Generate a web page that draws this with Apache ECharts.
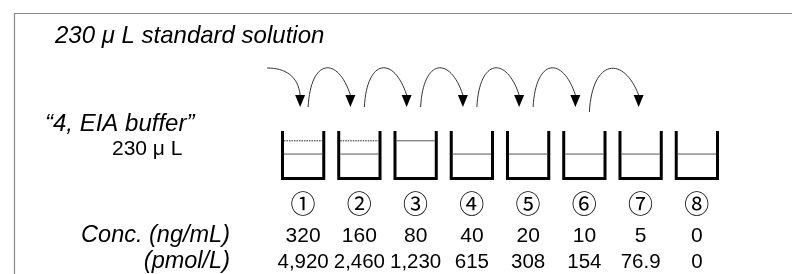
<!DOCTYPE html>
<html>
<head>
<meta charset="utf-8">
<script src="https://cdn.jsdelivr.net/npm/echarts@6/dist/echarts.min.js"></script>
<style>
    html, body { margin: 0; padding: 0; background: #fff; }
    #dom { width: 792px; height: 274px; }
</style>
</head>
<body>
<div id="dom"></div>
<script>
// tube numbers
const tubes = ['①', '②', '③', '④', '⑤', '⑥', '⑦', '⑧']
// concentration, ng/mL
const concNg = ['320', '160', '80', '40', '20', '10', '5', '0']
// concentration, pmol/L
const concPmol = ['4,920', '2,460', '1,230', '615', '308', '154', '76.9', '0']
// liquid in each tube (uL): now, and before the transfer (dotted)
const volNow = [230, 230, 460, 230, 230, 230, 230, 230]
const volBefore = [460, 460, null, null, null, null, null, null]
// transfers, -1 = standard solution
const transferFrom = [-1, 0, 1, 2, 3, 4, 5]
const transferTo = [0, 1, 2, 3, 4, 5, 6]

const FONT = 'Liberation Sans, Arial, sans-serif'

function beaker (params, api) {
    const i = api.value(0)
    const cs = params.coordSys
    const cx = api.coord([i, 0])[0]
    const half = api.size([1, 0])[0] * 0.367
    const top = cs.y
    const bottom = cs.y + cs.height - 1.5
    const children = [{
        type: 'polyline',
        shape: { points: [[cx - half, top], [cx - half, bottom], [cx + half, bottom], [cx + half, top]] },
        style: { stroke: '#000', lineWidth: 3, fill: null, lineJoin: 'miter' }
    }]
    const yNow = api.coord([i, api.value(1)])[1]
    children.push({
        type: 'line',
        shape: { x1: cx - half + 1.5, y1: yNow, x2: cx + half - 1.5, y2: yNow },
        style: { stroke: '#555', lineWidth: 1 }
    })
    const vb = api.value(2)
    if (!isNaN(vb)) {
        const yb = api.coord([i, vb])[1]
        children.push({
            type: 'line',
            shape: { x1: cx - half + 1.5, y1: yb, x2: cx + half - 1.5, y2: yb },
            style: { stroke: '#222', lineWidth: 1, lineDash: [1.5, 1] }
        })
    }
    return { type: 'group', children: children }
}

function arrow (params, api) {
    const from = api.value(0)
    const to = api.value(1)
    const top = params.coordSys.y
    const toX = api.coord([to, 0])[0]
    const last = params.dataIndex === transferFrom.length - 1
    const tipY = top - 24
    const headY = tipY - 12
    const peakY = top - 63
    let tx, curve
    if (from < 0) {
        tx = toX - 3
        curve = { x1: tx - 33, y1: peakY, cpx1: tx - 15, cpy1: peakY, cpx2: tx - 2, cpy2: peakY + 8, x2: tx, y2: headY }
    } else {
        tx = last ? toX - 2 : toX - 9
        const sx = api.coord([from, 0])[0] + 5
        const sy = last ? tipY + 5 : tipY
        const w = tx - sx
        curve = { x1: sx, y1: sy, cpx1: sx + 0.06 * w, cpy1: peakY - 10, cpx2: tx - 0.3 * w, cpy2: peakY - 12, x2: tx, y2: headY }
    }
    return {
        type: 'group',
        children: [{
            type: 'bezierCurve',
            shape: curve,
            style: { stroke: '#333', lineWidth: 1, fill: null }
        }, {
            type: 'polygon',
            shape: { points: [[tx - 5, headY], [tx + 5, headY], [tx, tipY]] },
            style: { fill: '#000' }
        }]
    }
}

const option = {
    animation: false,
    backgroundColor: '#fff',
    grid: {
        left: 275,
        width: 450,
        top: 131,
        bottom: 94
    },
    xAxis: {
        type: 'category',
        data: tubes,
        axisLine: { show: false },
        axisTick: { show: false },
        splitLine: { show: false },
        axisLabel: {
            interval: 0,
            margin: 8,
            formatter: function (value, index) {
                return '{c|' + tubes[index] + '}\n{n|' + concNg[index] + '}\n{p|' + concPmol[index] + '}'
            },
            rich: {
                c: { fontSize: 25, lineHeight: 30, fontFamily: 'Noto Sans CJK JP', color: '#000' },
                n: { fontSize: 21, lineHeight: 36, fontFamily: FONT, color: '#000' },
                p: { fontSize: 20.5, lineHeight: 16, fontFamily: FONT, color: '#000' }
            }
        }
    },
    yAxis: {
        type: 'value',
        min: -220,
        max: 630,
        show: false
    },
    graphic: [
        {
            type: 'rect',
            shape: { x: 14.5, y: 13.5, width: 900, height: 400 },
            style: { stroke: '#888', lineWidth: 1.2, fill: null },
            silent: true
        },
        {
            type: 'text', left: 55, top: 37 - 13,
            style: { text: '230 μ L standard solution', font: 'italic 24px ' + FONT, fill: '#000' }
        },
        {
            type: 'text', left: 45, top: 125 - 13,
            style: { text: '“4, EIA buffer”', font: 'italic 24px ' + FONT, fill: '#000' }
        },
        {
            type: 'text', left: 112, top: 150 - 11,
            style: { text: '230 μ L', font: '21px ' + FONT, fill: '#000' }
        },
        {
            type: 'text', right: 792 - 230, top: 236 - 12,
            style: { text: 'Conc. (ng/mL)', font: 'italic 23.5px ' + FONT, fill: '#000' }
        },
        {
            type: 'text', right: 792 - 230, top: 262 - 12,
            style: { text: '(pmol/L)', font: 'italic 23.5px ' + FONT, fill: '#000' }
        }
    ],
    series: [
        {
            type: 'custom',
            renderItem: beaker,
            data: tubes.map((t, i) => [i, volNow[i], volBefore[i] === null ? '-' : volBefore[i]])
        },
        {
            type: 'custom',
            renderItem: arrow,
            data: transferFrom.map((f, k) => [f, transferTo[k]])
        }
    ]
}

let myChart = echarts.init(document.getElementById('dom'))
myChart.setOption(option, true)
</script>
</body>
</html>
